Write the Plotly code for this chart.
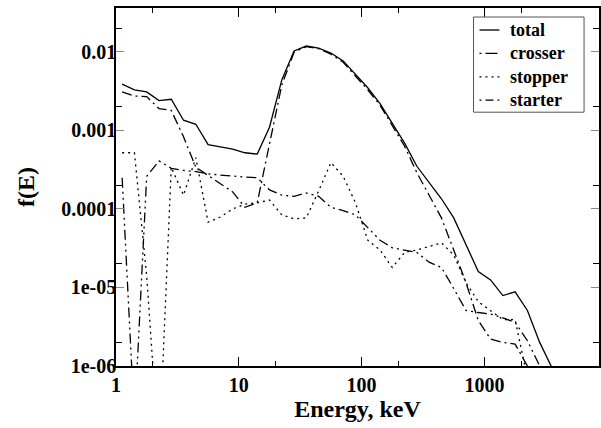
import plotly.graph_objects as go

energy = [1.122, 1.413, 1.778, 2.239, 2.818, 3.548, 4.467, 5.623, 7.079, 8.913,
          11.22, 14.13, 17.78, 22.39, 28.18, 35.48, 44.67, 56.23, 70.79, 89.13,
          112.2, 141.3, 177.8, 223.9, 281.8, 354.8, 446.7, 562.3, 707.9, 891.3,
          1122, 1413, 1778, 2239, 2818, 3548]

total = [3.9e-3, 3.3e-3, 3.1e-3, 2.4e-3, 2.5e-3, 1.35e-3, 1.2e-3, 6.6e-4, 6.2e-4, 5.8e-4,
         5.2e-4, 5.0e-4, 1.1e-3, 4.4e-3, 1.03e-2, 1.19e-2, 1.12e-2, 9.7e-3, 7.7e-3, 5.2e-3,
         3.5e-3, 2.2e-3, 1.25e-3, 6.9e-4, 3.5e-4, 2.15e-4, 1.35e-4, 7.7e-5, 3.5e-5, 1.6e-5,
         1.25e-5, 7.9e-6, 8.8e-6, 5.1e-6, 2.0e-6, 9.5e-7]

crosser = [3.1e-3, 2.75e-3, 2.7e-3, 1.9e-3, 1.8e-3, 8.3e-4, 3.4e-4, 2.7e-4, 2.1e-4, 1.65e-4,
           1.05e-4, 1.2e-4, 6.5e-4, 3.8e-3, 9.9e-3, 1.17e-2, 1.1e-2, 9.4e-3, 7.4e-3, 5.0e-3,
           3.3e-3, 2.1e-3, 1.15e-3, 6.3e-4, 2.9e-4, 1.5e-4, 7.7e-5, 3.0e-5, 1.15e-5, 3.8e-6,
           2.2e-6, 2.0e-6, 1.9e-6, 1.0e-6, 4e-7, 2e-7]

stopper = [5.2e-4, 5.2e-4, 1.4e-5, 7.4e-8, 3.4e-4, 1.5e-4, 4.5e-4, 6.8e-5, 7.9e-5, 1.0e-4,
           1.15e-4, 1.2e-4, 1.3e-4, 8.4e-5, 7.5e-5, 7.7e-5, 1.7e-4, 3.9e-4, 2.6e-4, 1.2e-4,
           4.0e-5, 3.0e-5, 1.8e-5, 2.8e-5, 3.0e-5, 3.3e-5, 3.7e-5, 2.6e-5, 1.15e-5, 6.6e-6,
           5.1e-6, 3.9e-6, 3.9e-6, 7e-7, 3e-7, 1e-7]

starter = [2.5e-4, 2e-7, 2.6e-4, 4.1e-4, 3.3e-4, 3.1e-4, 3.0e-4, 2.8e-4, 2.7e-4, 2.6e-4,
           2.55e-4, 2.5e-4, 1.75e-4, 1.5e-4, 1.45e-4, 1.6e-4, 1.45e-4, 1.05e-4, 9.5e-5, 8.4e-5,
           5.8e-5, 4.0e-5, 3.2e-5, 3.0e-5, 2.8e-5, 2.1e-5, 1.8e-5, 9.7e-6, 5.1e-6, 4.8e-6,
           4.6e-6, 4.1e-6, 3.6e-6, 2.1e-6, 1.0e-6, 4e-7]

x_major = [1, 10, 100, 1000]
x_labels = ["1", "10", "100", "1000"]
x_minor = [2, 20, 200, 2000]
y_major = [1e-6, 1e-5, 1e-4, 1e-3, 1e-2]
y_labels = ["1e-06", "1e-05", "0.0001", "0.001", "0.01"]
y_minor = [2e-6, 2e-5, 2e-4, 2e-3, 2e-2]

series_names = ["total", "crosser", "stopper", "starter"]
series_values = [total, crosser, stopper, starter]
plot_dash = ["solid", "10px,4px,2px,4px", "2px,4px", "10px,4px,2px,4px,2px,4px"]
legend_dash = ["solid", "2px,4px,12px,4px", "2px,4px", "2px,4px,8px,4px,2px,4px"]

fig = go.Figure()
for name, vals, dash in zip(series_names, series_values, plot_dash):
    fig.add_trace(go.Scatter(x=energy, y=vals, mode="lines", name=name, showlegend=False,
                             line=dict(color="black", width=1.3, dash=dash)))

font = dict(family="Liberation Serif", size=20, color="black")
leg_size = 18
leg_step = leg_size * 1.3

# hand-made compact legend box
px_l, px_w, px_b, px_h = 116, 485, 366, 358
def xp(px):
    return (px - px_l) / px_w
def yp(py):
    return (px_b - py) / px_h

top_row = 30
rows = [top_row + i * leg_step for i in range(len(series_names))]
shapes = [dict(type="rect", xref="paper", yref="paper",
               x0=xp(475), x1=xp(586), y0=yp(rows[-1] + 12), y1=yp(17),
               line=dict(color="#555555", width=1), fillcolor="white", layer="above")]
for dash, ry in zip(legend_dash, rows):
    shapes.append(dict(type="line", xref="paper", yref="paper",
                       x0=xp(481), x1=xp(501), y0=yp(ry), y1=yp(ry),
                       line=dict(color="black", width=1.3, dash=dash), layer="above"))
annotations = [dict(xref="paper", yref="paper", x=xp(510), y=yp((rows[0] + rows[-1]) / 2),
                    xanchor="left", yanchor="middle", align="left", showarrow=False,
                    text="<br>".join("<b>%s</b>" % n for n in series_names),
                    font=dict(family="Liberation Serif", size=leg_size, color="black"))]

fig.update_layout(
    width=601, height=428,
    margin=dict(l=116, r=0, t=8, b=62),
    paper_bgcolor="white", plot_bgcolor="white",
    font=font,
    showlegend=False,
    shapes=shapes,
    annotations=annotations,
)

fig.update_xaxes(
    type="log", range=[0, 3.933],
    showline=True, linecolor="black", linewidth=1.5, mirror="allticks",
    ticks="inside", ticklen=9, tickcolor="black", tickwidth=1,
    tickvals=x_major, ticktext=["<b>%s</b>" % t for t in x_labels],
    minor=dict(tickvals=x_minor, ticks="inside", ticklen=5, tickcolor="black", tickwidth=1),
    showgrid=False, zeroline=False,
    title=dict(text="<b>Energy, keV</b>", standoff=2),
)
fig.update_yaxes(
    type="log", range=[-6, -1.44],
    showline=True, linecolor="black", linewidth=1.5, mirror="allticks",
    ticks="inside", ticklen=8, tickcolor="#888888", tickwidth=1,
    tickvals=y_major, ticktext=["<b>%s</b>" % t for t in y_labels],
    ticklabelstandoff=-6,
    minor=dict(tickvals=y_minor, ticks="inside", ticklen=6, tickcolor="black", tickwidth=1),
    showgrid=False, zeroline=False,
    title=dict(text="<b>f(E)</b>", standoff=20),
)

fig.write_html("out.html")
